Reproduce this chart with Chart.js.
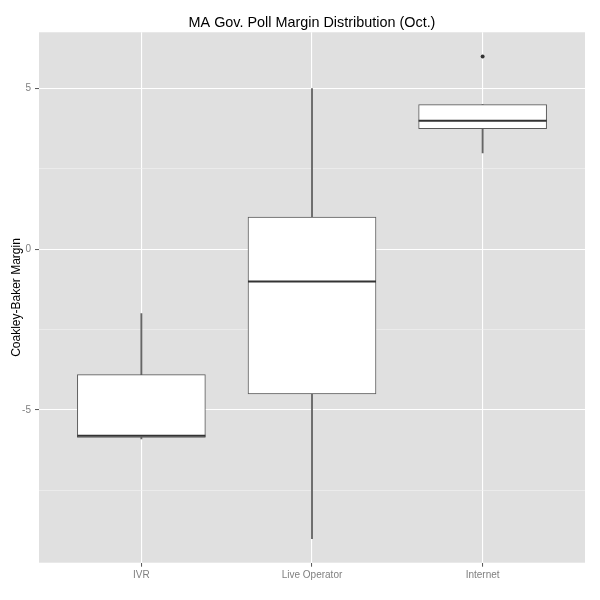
<!DOCTYPE html>
<html>
<head>
<meta charset="utf-8">
<script src="https://cdn.jsdelivr.net/npm/chart.js@4.4.1/dist/chart.umd.min.js"></script>
<style>
html,body{margin:0;padding:0;background:#fff;}
#wrap{width:600px;height:600px;}
</style>
</head>
<body>
<div id="wrap"><canvas id="c"></canvas></div>
<script>
const categories = ['IVR', 'Live Operator', 'Internet'];
const catPos = [1, 2, 3];
const whiskerLow = [-5.9, -9, 3];
const q1 = [-5.85, -4.5, 3.75];
const median = [-5.8, -1, 4];
const q3 = [-3.9, 1, 4.5];
const whiskerHigh = [-2, 5, 4.5];
const outlierCat = [3];
const outlierVal = [6];
const yMajorTicks = [-5, 0, 5];
const yMinorTicks = [-7.5, -2.5, 2.5];

const panelBg = {
  id: 'panelBg',
  beforeDraw(chart) {
    const a = chart.chartArea, ctx = chart.ctx;
    ctx.save();
    ctx.fillStyle = '#E0E0E0';
    ctx.fillRect(a.left, a.top, a.right - a.left, a.bottom - a.top);
    ctx.restore();
  }
};

const isMajor = v => yMajorTicks.some(t => Math.abs(t - v) < 1e-9);
const FONT = '"Liberation Sans", Arial, Helvetica, sans-serif';

new Chart(document.getElementById('c'), {
  type: 'bar',
  data: {
    datasets: [
      {
        type: 'line', order: 0, showLine: false,
        data: outlierCat.map((c, i) => ({x: c, y: outlierVal[i]})),
        pointRadius: 2, pointBackgroundColor: '#333333', pointBorderColor: '#333333', pointBorderWidth: 0
      },
      {
        type: 'line', order: 1, showLine: false,
        data: catPos.map((c, i) => ({x: c, y: median[i]})),
        pointStyle: 'line', pointRadius: 64, pointBorderWidth: 2, pointBorderColor: '#333333'
      },
      {
        type: 'bar', order: 2, grouped: false,
        data: catPos.map((c, i) => ({x: c, y: [q1[i], q3[i]]})),
        barThickness: 128, backgroundColor: '#FFFFFF', borderColor: '#595959', borderWidth: 1, borderSkipped: false
      },
      {
        type: 'bar', order: 3, grouped: false,
        data: catPos.map((c, i) => ({x: c, y: [whiskerLow[i], whiskerHigh[i]]})),
        barThickness: 1.2, backgroundColor: '#666666', borderWidth: 0
      }
    ]
  },
  options: {
    responsive: true, maintainAspectRatio: false, animation: false, events: [],
    layout: {autoPadding: false, padding: {left: 0, right: 15, top: 0, bottom: 0}},
    plugins: {
      legend: {display: false}, tooltip: {enabled: false},
      title: {
        display: true, fullSize: false,
        text: 'MA Gov. Poll Margin Distribution (Oct.)',
        color: '#000000', font: {family: FONT, size: 14.4, weight: 'normal'},
        padding: {top: 14, bottom: 1}
      }
    },
    scales: {
      x: {
        type: 'linear', min: 0.4, max: 3.6, offset: false,
        afterBuildTicks: s => { s.ticks = catPos.map(v => ({value: v})); },
        afterFit: s => { s.height = 37.3; },
        ticks: {
          autoSkip: false, maxRotation: 0, padding: 3, color: '#7F7F7F',
          font: {family: FONT, size: 10},
          callback: v => categories[catPos.indexOf(v)] || ''
        },
        grid: {offset: false, color: '#FFFFFF', lineWidth: 1.1, drawTicks: true, tickLength: 4, tickColor: '#555555', tickWidth: 1},
        border: {display: false}
      },
      y: {
        type: 'linear', min: -9.75, max: 6.75,
        afterBuildTicks: s => { s.ticks = yMajorTicks.concat(yMinorTicks).sort((a, b) => a - b).map(v => ({value: v})); },
        afterFit: s => { s.width = 39; },
        ticks: {
          autoSkip: false, padding: 4, color: '#7F7F7F',
          font: {family: FONT, size: 10},
          callback: v => isMajor(v) ? String(v) : ''
        },
        grid: {
          color: c => isMajor(c.tick.value) ? '#FFFFFF' : '#F2F2F2',
          lineWidth: c => isMajor(c.tick.value) ? 1.1 : 0.6,
          drawTicks: true, tickLength: 4, tickWidth: 1,
          tickColor: c => isMajor(c.tick.value) ? '#555555' : 'rgba(0,0,0,0)'
        },
        border: {display: false},
        title: {
          display: true, text: 'Coakley-Baker Margin', color: '#000000',
          font: {family: FONT, size: 12, weight: 'normal'}, padding: {top: 9, bottom: 0}
        }
      }
    }
  },
  plugins: [panelBg]
});
</script>
</body>
</html>
